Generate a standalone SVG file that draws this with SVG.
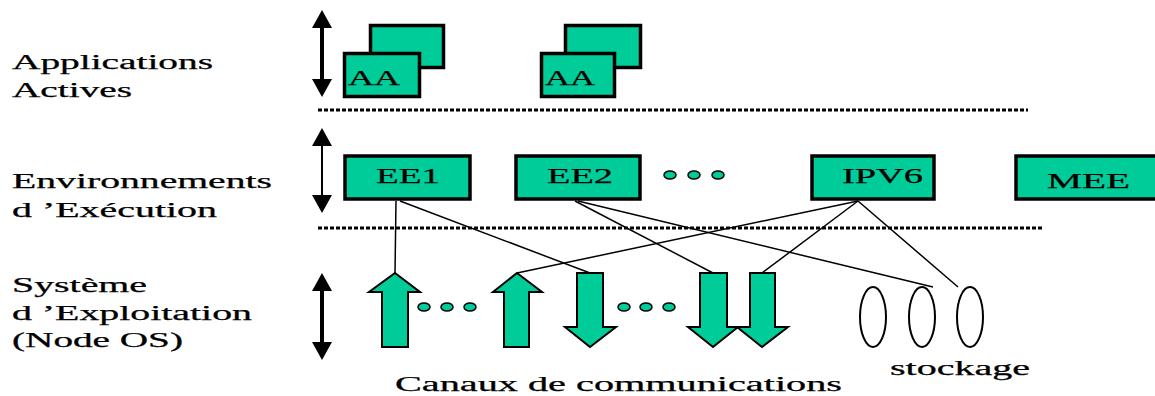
<svg xmlns="http://www.w3.org/2000/svg" width="1155" height="396" viewBox="0 0 1155 396">
<style>
.box{fill:#00CC99;stroke:#000;stroke-width:3.5}
.arr{fill:#00CC99;stroke:#000;stroke-width:2;stroke-linejoin:miter}
.dot{fill:#00CC99;stroke:#000;stroke-width:1.5}
text{font-family:'Liberation Serif','Times New Roman',serif;fill:#000;stroke:#000;stroke-width:0.25}
.lbl{font-size:20px}
.btx{font-size:21px}
.sep{stroke:#000;stroke-width:3;stroke-dasharray:4 2;fill:none}
.con{stroke:#000;stroke-width:1.5;fill:none}
.disk{fill:none;stroke:#000;stroke-width:2}
.dbl{fill:#000}
</style>
<rect width="1155" height="396" fill="#fff"/>

<g id="labels">
<text class="lbl" x="12" y="69" textLength="201" lengthAdjust="spacingAndGlyphs">Applications</text>
<text class="lbl" x="12" y="97" textLength="120" lengthAdjust="spacingAndGlyphs">Actives</text>
<text class="lbl" x="12" y="188" textLength="260" lengthAdjust="spacingAndGlyphs">Environnements</text>
<text class="lbl" x="12" y="217" textLength="205" lengthAdjust="spacingAndGlyphs">d ’Exécution</text>
<text class="lbl" x="12" y="292" textLength="135" lengthAdjust="spacingAndGlyphs">Système</text>
<text class="lbl" x="12" y="320" textLength="240" lengthAdjust="spacingAndGlyphs">d ’Exploitation</text>
<text class="lbl" x="12" y="347" textLength="171" lengthAdjust="spacingAndGlyphs">(Node OS)</text>
<text class="lbl" x="395" y="391" textLength="447" lengthAdjust="spacingAndGlyphs">Canaux de communications</text>
<text class="lbl" x="890" y="375" textLength="140" lengthAdjust="spacingAndGlyphs">stockage</text>
</g>

<g id="level-arrows">
<path class="dbl" d="M322,10 L332,28 L324,28 L324,79 L332,79 L322,97 L312,79 L320,79 L320,28 L312,28 Z"/>
<path class="dbl" d="M322,128 L332,146 L323,146 L323,195 L332,195 L322,213 L312,195 L321,195 L321,146 L312,146 Z"/>
<path class="dbl" d="M322,273 L332,291 L324,291 L324,342 L332,342 L322,360 L312,342 L320,342 L320,291 L312,291 Z"/>
</g>

<g id="separators">
<line class="sep" x1="318" y1="110" x2="1028" y2="110"/>
<line class="sep" x1="318" y1="228" x2="1042" y2="228"/>
</g>

<g id="connectors">
<line class="con" x1="396" y1="201" x2="395" y2="273"/>
<line class="con" x1="400" y1="201" x2="590" y2="273"/>
<line class="con" x1="575" y1="201" x2="713" y2="273"/>
<line class="con" x1="578" y1="201" x2="933" y2="287"/>
<line class="con" x1="858" y1="201" x2="517" y2="273"/>
<line class="con" x1="858" y1="201" x2="762" y2="273"/>
<line class="con" x1="858" y1="201" x2="958" y2="287"/>
</g>

<g id="AA1">
<rect class="box" x="370.5" y="25.5" width="73" height="42"/>
<rect class="box" x="344.5" y="53.5" width="75" height="43"/>
<text class="btx" x="348" y="85" font-size="22" textLength="52" lengthAdjust="spacingAndGlyphs">AA</text>
</g>
<g id="AA2">
<rect class="box" x="565.5" y="25.5" width="75" height="42"/>
<rect class="box" x="541.5" y="53.5" width="73" height="43"/>
<text class="btx" x="545" y="85" font-size="22" textLength="50" lengthAdjust="spacingAndGlyphs">AA</text>
</g>

<g id="EE1">
<rect class="box" x="345" y="156" width="125" height="43"/>
<text class="btx" x="376" y="183" textLength="64" lengthAdjust="spacingAndGlyphs">EE1</text>
</g>
<g id="EE2">
<rect class="box" x="516" y="156" width="124" height="43"/>
<text class="btx" x="547" y="183" textLength="66" lengthAdjust="spacingAndGlyphs">EE2</text>
</g>
<g id="ee-dots">
<ellipse class="dot" cx="670" cy="175" rx="6" ry="4"/>
<ellipse class="dot" cx="694" cy="175" rx="6" ry="4"/>
<ellipse class="dot" cx="718" cy="175" rx="6" ry="4"/>
</g>
<g id="IPV6">
<rect class="box" x="812" y="156" width="122" height="43"/>
<text class="btx" x="842" y="183" textLength="81" lengthAdjust="spacingAndGlyphs">IPV6</text>
</g>
<g id="MEE">
<rect class="box" x="1016" y="156" width="160" height="43"/>
<text class="btx" x="1047" y="188" textLength="83" lengthAdjust="spacingAndGlyphs">MEE</text>
</g>

<g id="channels">
<polygon class="arr" points="395,273 420,292 408,292 408,347 382,347 382,292 369,292"/>
<polygon class="arr" points="517,273 542,292 529,292 529,347 504,347 504,292 493,292"/>
<polygon class="arr" points="577,273 603,273 603,327 616,327 590,347 565,327 577,327"/>
<polygon class="arr" points="700,273 727,273 727,327 738,327 713,347 688,327 700,327"/>
<polygon class="arr" points="750,273 775,273 775,327 788,327 762,347 737,327 750,327"/>
<ellipse class="dot" cx="424" cy="307" rx="6" ry="4"/>
<ellipse class="dot" cx="447" cy="307" rx="6" ry="4"/>
<ellipse class="dot" cx="470" cy="307" rx="6" ry="4"/>
<ellipse class="dot" cx="624" cy="307" rx="6" ry="4"/>
<ellipse class="dot" cx="646" cy="307" rx="6" ry="4"/>
<ellipse class="dot" cx="669" cy="307" rx="6" ry="4"/>
</g>

<g id="storage">
<ellipse class="disk" cx="873" cy="317" rx="13" ry="30"/>
<ellipse class="disk" cx="922" cy="317" rx="13" ry="30"/>
<ellipse class="disk" cx="970" cy="317" rx="13" ry="30"/>
</g>
</svg>
